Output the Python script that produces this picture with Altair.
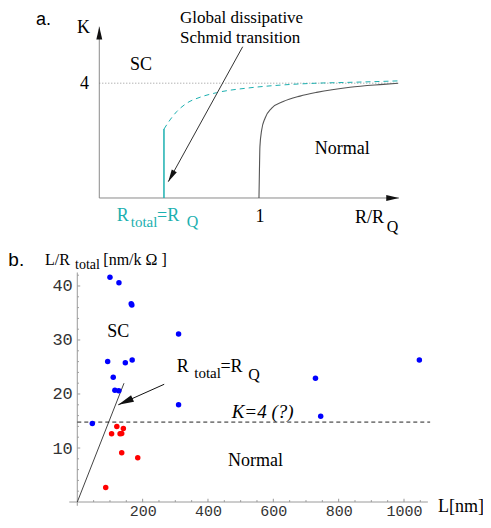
import altair as alt
import pandas as pd

# ---------------- panel a: schematic K vs R/R_Q ----------------
a_normal_x = [1.0, 1.003, 1.006, 1.017, 1.038, 1.08, 1.152, 1.257, 1.361, 1.57, 1.778, 1.872]
a_normal_k = [0.0, 0.98, 1.79, 2.37, 2.78, 3.13, 3.36, 3.55, 3.68, 3.86, 3.96, 4.0]
a_jump_x = [0.405, 0.405]
a_jump_k = [0.0, 2.40]
a_sc_x = [0.405, 0.443, 0.485, 0.547, 0.631, 0.735, 0.944, 1.152, 1.361, 1.57, 1.872]
a_sc_k = [2.40, 2.72, 3.01, 3.30, 3.51, 3.67, 3.84, 3.94, 4.0, 4.03, 4.08]
a_k_level = 4.0
a_k_line_end = 1.87
a_axis_end_x = 1.877
a_axis_end_k = 5.97
a_arrow_from = (0.898, 5.27)
a_arrow_to = (0.432, 0.568)

# ---------------- panel b: L/R_total vs L ----------------
sc_L = [100, 127.5, 165, 167, 310, 93, 147, 168, 110, 115, 127, 310, 46, 729, 745, 1047]
sc_y = [41.6, 40.6, 36.7, 36.5, 31.1, 26.0, 25.8, 26.3, 23.1, 20.7, 20.6, 18.0, 14.55, 22.9, 15.9, 26.3]
n_L = [121, 141, 105, 131, 136, 136, 185, 87]
n_y = [14.0, 13.6, 12.65, 12.65, 12.7, 9.1, 8.2, 2.7]
b_rq_L = [0, 143]
b_rq_y = [0, 22.0]
b_k4 = 14.8
b_k4_L = [0, 1080]
b_arrow_from = (266, 21.8)
b_arrow_to = (125.5, 18.0)
b_xticks = [200, 400, 600, 800, 1000]
b_yticks = [10, 20, 30, 40]
b_xminor = [50, 100, 150, 250, 300, 350, 450, 500, 550, 650, 700, 750, 850, 900, 950, 1050]
b_yminor = [2, 4, 6, 8, 12, 14, 16, 18, 22, 24, 26, 28, 32, 34, 36, 38, 42]
b_x_axis = (-24.5, 1073)
b_y_axis = (-0.7, 42.5)

CYAN = "#1cb0b0"
ARROW = "M0,0L0.42,1.8L-0.42,1.8Z"

xa = alt.Scale(domain=[-0.5717, 2.403], nice=False, zero=False)
ya = alt.Scale(domain=[-11.22, 6.620], nice=False, zero=False)
xb = alt.Scale(domain=[-212.1, 1241.8], nice=False, zero=False)
yb = alt.Scale(domain=[-3.333, 91.48], nice=False, zero=False)

xb_axis = alt.Axis(orient="bottom", values=b_xticks, format="d", domain=False, ticks=False,
                   tickSize=0, grid=False, labelFont="Liberation Mono", labelFontSize=15,
                   labelColor="#333333", labelPadding=1.3, offset=-18, title=None,
                   labelFlush=False, labelOverlap=False)
yb_axis = alt.Axis(orient="left", values=b_yticks, format="d", domain=False, ticks=False,
                   tickSize=0, grid=False, labelFont="Liberation Mono", labelFontSize=17,
                   labelColor="#333333", labelPadding=5, offset=-69.3, title=None,
                   labelOverlap=False)


def XA(f):
    return alt.X(f, type="quantitative", scale=xa, axis=None)


def YA(f):
    return alt.Y(f, type="quantitative", scale=ya, axis=None)


def XB(f):
    return alt.X(f, type="quantitative", scale=xb, axis=xb_axis)


def YB(f):
    return alt.Y(f, type="quantitative", scale=yb, axis=yb_axis)


def seg_df(rows):
    return pd.DataFrame(rows, columns=["x", "y", "x2", "y2"])


def text_layer(rows, X, Y, font, style="normal"):
    df = pd.DataFrame(rows, columns=["t", "x", "y", "s", "c"])
    return alt.Chart(df).mark_text(align="left", baseline="alphabetic", font=font,
                                   fontStyle=style).encode(
        x=X("x"), y=Y("y"), text="t:N",
        size=alt.Size("s:Q", scale=None), color=alt.Color("c:N", scale=None))


def head(x, y, angle, X, Y, size):
    df = pd.DataFrame({"x": [x], "y": [y]})
    return alt.Chart(df).mark_point(shape=ARROW, filled=True, size=size, angle=angle,
                                    color="#111111", opacity=1, strokeWidth=0).encode(
        x=X("x"), y=Y("y"))


# ---------- panel a layers ----------
a_axes = alt.Chart(seg_df([(0, 0, 0, a_axis_end_k), (0, 0, a_axis_end_x, 0)])).mark_rule(
    color="#8a8a8a", strokeWidth=1).encode(x=XA("x"), y=YA("y"), x2="x2:Q", y2="y2:Q")
a_dot = alt.Chart(seg_df([(0, a_k_level, a_k_line_end, a_k_level)])).mark_rule(
    color="#777777", strokeWidth=0.8, strokeDash=[1, 2]).encode(
    x=XA("x"), y=YA("y"), x2="x2:Q", y2="y2:Q")
a_jump = alt.Chart(pd.DataFrame({"x": a_jump_x, "y": a_jump_k})).mark_line(
    color=CYAN, strokeWidth=1.5).encode(x=XA("x"), y=YA("y"))
a_sc = alt.Chart(pd.DataFrame({"x": a_sc_x, "y": a_sc_k})).mark_line(
    color=CYAN, strokeWidth=1, strokeDash=[5, 4], interpolate="monotone").encode(
    x=XA("x"), y=YA("y"))
a_norm = alt.Chart(pd.DataFrame({"x": a_normal_x, "y": a_normal_k})).mark_line(
    color="#555555", strokeWidth=1.1, interpolate="monotone").encode(x=XA("x"), y=YA("y"))
a_arrow = alt.Chart(seg_df([(a_arrow_from[0], a_arrow_from[1], a_arrow_to[0], a_arrow_to[1])])).mark_rule(
    color="#333333", strokeWidth=1).encode(x=XA("x"), y=YA("y"), x2="x2:Q", y2="y2:Q")
a_heads = [
    head(0, a_axis_end_k, 0, XA, YA, 200),
    head(a_axis_end_x, 0, 90, XA, YA, 200),
    head(a_arrow_to[0], a_arrow_to[1], 209, XA, YA, 190),
]
a_text = text_layer([
    ("K", -0.139, 5.739, 18, "#000000"),
    ("4", -0.121, 3.787, 18, "#000000"),
    ("SC", 0.192, 4.46, 18, "#000000"),
    ("Global dissipative", 0.505, 6.080, 17, "#000000"),
    ("Schmid transition", 0.505, 5.40, 17, "#000000"),
    ("Normal", 1.350, 1.533, 18, "#000000"),
    ("1", 0.978, -0.826, 18, "#000000"),
    ("R/R", 1.601, -0.861, 18, "#000000"),
    ("Q", 1.801, -1.174, 16, "#000000"),
    ("R", 0.109, -0.791, 18, CYAN),
    ("total", 0.197, -1.0, 15, CYAN),
    ("=R", 0.362, -0.791, 18, CYAN),
    ("Q", 0.547, -1.021, 16, CYAN),
], XA, YA, "Liberation Serif")
a_label = text_layer([("a.", -0.3963, 6.028, 18, "#000000")], XA, YA, "Liberation Sans")

panel_a = alt.layer(a_axes, a_dot, a_jump, a_sc, a_norm, a_arrow, *a_heads, a_text, a_label)

# ---------- panel b layers ----------
b_axes = alt.Chart(seg_df([(b_x_axis[0], 0, b_x_axis[1], 0), (0, b_y_axis[0], 0, b_y_axis[1])])).mark_rule(
    color="#9a9a9a", strokeWidth=1).encode(x=XB("x"), y=YB("y"), x2="x2:Q", y2="y2:Q")
tick_rows = ([(0, v, 9, v) for v in b_yticks] + [(0, v, 5, v) for v in b_yminor] +
             [(v, 0, v, 0.6) for v in b_xticks] + [(v, 0, v, 0.35) for v in b_xminor])
b_ticks = alt.Chart(seg_df(tick_rows)).mark_rule(color="#9a9a9a", strokeWidth=1).encode(
    x=XB("x"), y=YB("y"), x2="x2:Q", y2="y2:Q")
b_rq = alt.Chart(pd.DataFrame({"x": b_rq_L, "y": b_rq_y})).mark_line(
    color="#444444", strokeWidth=1).encode(x=XB("x"), y=YB("y"))
b_dash = alt.Chart(seg_df([(b_k4_L[0], b_k4, b_k4_L[1], b_k4)])).mark_rule(
    color="#222222", strokeWidth=1, strokeDash=[4, 3]).encode(
    x=XB("x"), y=YB("y"), x2="x2:Q", y2="y2:Q")
b_arrow = alt.Chart(seg_df([(b_arrow_from[0], b_arrow_from[1], b_arrow_to[0], b_arrow_to[1])])).mark_rule(
    color="#111111", strokeWidth=1).encode(x=XB("x"), y=YB("y"), x2="x2:Q", y2="y2:Q")
b_head = head(b_arrow_to[0], b_arrow_to[1], 246, XB, YB, 300)
b_sc = alt.Chart(pd.DataFrame({"x": sc_L, "y": sc_y})).mark_circle(
    color="#0000ff", size=30, opacity=1).encode(x=XB("x"), y=YB("y"))
b_n = alt.Chart(pd.DataFrame({"x": n_L, "y": n_y})).mark_circle(
    color="#ff0000", size=30, opacity=1).encode(x=XB("x"), y=YB("y"))
b_text = text_layer([
    ("L/R", -98.9, 43.89, 16, "#000000"),
    ("total", -7.0, 43.09, 14, "#000000"),
    ("[nm/k \u03a9 ]", 79.6, 43.89, 16, "#000000"),
    ("SC", 91.8, 30.50, 18, "#000000"),
    ("R", 304.3, 24.02, 18, "#000000"),
    ("total", 358.0, 22.91, 15, "#000000"),
    ("=R", 438.0, 24.02, 18, "#000000"),
    ("Q", 523.4, 22.59, 16, "#000000"),
    ("Normal", 461.3, 6.67, 18, "#000000"),
    ("L[nm]", 1104, -1.80, 18, "#000000"),
], XB, YB, "Liberation Serif")
b_italic = text_layer([("K=4 (?)", 472.6, 15.50, 19, "#000000")], XB, YB, "Liberation Serif", "italic")
b_label = text_layer([("b.", -211.0, 43.70, 19, "#000000")], XB, YB, "Liberation Sans")

panel_b = alt.layer(b_axes, b_ticks, b_rq, b_dash, b_arrow, b_head, b_sc, b_n, b_text, b_italic, b_label)

chart = alt.layer(panel_a, panel_b).resolve_scale(
    x="independent", y="independent"
).properties(
    width=475, height=512, padding=0, autosize=alt.AutoSizeParams(type="none")
).configure_view(stroke=None)

chart.save("out.html", embed_options={"renderer": "svg", "actions": False})
